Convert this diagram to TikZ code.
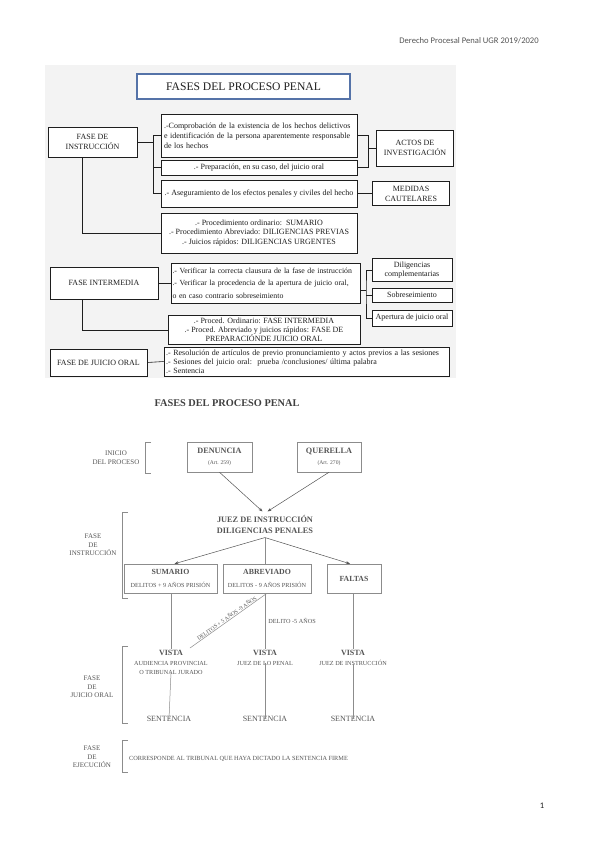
\documentclass[tikz,border=0pt]{standalone}
\usepackage{fontspec}
\setmainfont{Liberation Serif}
\newfontfamily\hdrfont{Carlito}
\usetikzlibrary{arrows.meta,calc}
\definecolor{bgc}{HTML}{F3F3F3}
\definecolor{ink}{HTML}{1E1E1E}
\definecolor{gtext}{HTML}{555555}
\definecolor{gline}{HTML}{8C8C8C}
\definecolor{tblue}{HTML}{5573A8}
\begin{document}
\begin{tikzpicture}[x=1pt,y=-1pt,
  ubox/.style={draw=ink, line width=0.6pt, inner sep=0pt, align=center, text=ink, fill=white, font=\fontsize{8}{9.8}\selectfont},
  lbox/.style={ubox, align=left, inner xsep=3pt},
  uline/.style={draw=ink, line width=0.6pt},
  gbox/.style={draw=gline, line width=0.5pt, inner sep=0pt, align=center, text=gtext},
  gl/.style={draw=gline, line width=0.5pt},
  garrow/.style={draw=gtext, line width=0.5pt, -{Stealth[length=4pt,width=3pt]}},
  glab/.style={text=gtext, align=center, font=\fontsize{7}{8.7}\selectfont, inner sep=0pt},
  gbig/.style={text=gtext, align=center, font=\fontsize{8}{9}\selectfont\bfseries, inner sep=0pt},
  gsub/.style={text=gtext, align=center, font=\fontsize{6.2}{9}\selectfont, inner sep=0pt},
]
\useasboundingbox[fill=white] (0,0) rectangle (599,848);

% header and page number
\node[text=gtext, font=\hdrfont\fontsize{8.6}{10}\selectfont, inner sep=0pt] (hdr) at (469,41) {Derecho Procesal Penal UGR 2019/2020};
\node[text=ink, font=\hdrfont\fontsize{8.5}{9}\selectfont, inner sep=0pt] (pnum) at (542,806) {1};

% ---------- upper diagram ----------
\fill[bgc] (45,65) rectangle (456,378);
\node[ubox, draw=tblue, line width=1.1pt, minimum width=213pt, minimum height=25pt, font=\fontsize{11.6}{13}\selectfont] (title) at (243.5,86.5) {FASES DEL PROCESO PENAL};

\node[ubox, minimum width=89pt, minimum height=30pt] (fi) at (92.5,142) {FASE DE\\INSTRUCCIÓN};
\node[lbox, text width=190pt, minimum height=43pt] (b1) at (259,135.5) {.-Comprobación de la existencia de los hechos delictivos\\e identificación de la persona aparentemente responsable\\de los hechos};
\node[ubox, minimum width=196pt, minimum height=15pt] (b2) at (259,167.5) {.- Preparación, en su caso, del juicio oral};
\node[ubox, minimum width=196pt, minimum height=27pt] (b3) at (259,193.5) {.- Aseguramiento de los efectos penales y civiles del hecho};
\node[ubox, minimum width=77pt, minimum height=36pt] (actos) at (415,148) {ACTOS DE\\INVESTIGACIÓN};
\node[ubox, minimum width=77pt, minimum height=24pt] (medidas) at (411,193.5) {MEDIDAS\\CAUTELARES};
\node[ubox, minimum width=196pt, minimum height=40pt, font=\fontsize{8}{9.2}\selectfont] (b4) at (259,233) {.- Procedimiento ordinario:\ \ SUMARIO\\.- Procedimiento Abreviado: DILIGENCIAS PREVIAS\\.- Juicios rápidos: DILIGENCIAS URGENTES};

\node[ubox, minimum width=108pt, minimum height=32pt] (fint) at (104,283) {FASE INTERMEDIA};
\node[lbox, inner xsep=1.5pt, text width=186pt, minimum height=40pt, font=\fontsize{7.8}{12.5}\selectfont] (b5) at (265.5,283) {.- Verificar la correcta clausura de la fase de instrucción\\.- Verificar la procedencia de la apertura de juicio oral,\\o en caso contrario sobreseimiento};
\node[ubox, minimum width=80pt, minimum height=23pt] (dil) at (412,270) {Diligencias\\complementarias};
\node[ubox, minimum width=80pt, minimum height=14pt] (sob) at (412,295) {Sobreseimiento};
\node[ubox, minimum width=80pt, minimum height=16pt] (ape) at (412,318) {Apertura de juicio oral};
\node[ubox, minimum width=192pt, minimum height=29pt, font=\fontsize{8}{9.2}\selectfont] (b6) at (264,330) {.- Proced. Ordinario: FASE INTERMEDIA\\.- Proced. Abreviado y juicios rápidos: FASE DE\\PREPARACIÓNDE JUICIO ORAL};

\node[ubox, minimum width=97pt, minimum height=27pt] (fjo) at (98.5,362.5) {FASE DE JUICIO ORAL};
\node[lbox, inner xsep=2pt, text width=281pt, minimum height=29pt, font=\fontsize{8}{9.2}\selectfont] (b7) at (306.5,361.5) {.- Resolución de artículos de previo pronunciamiento y actos previos a las sesiones\\.- Sesiones del juicio oral:\ \ prueba /conclusiones/ última palabra\\.- Sentencia};

% upper connectors
\coordinate (j1) at (153,142);
\draw[uline] (fi.east) -- (j1);
\draw[uline] (b1.west) -| (j1);
\draw[uline] (b3.west) -| (j1);
\draw[uline] (b2.west) -- (b2.west -| j1);
\coordinate (j2) at (368,148);
\draw[uline] (b1.east) -| (j2);
\draw[uline] (b2.east) -| (j2);
\draw[uline] (j2) -- (actos.west);
\draw[uline] (b3.east) -- (medidas.west);
\draw[uline] ([xshift=-10pt]fi.south) |- (b4.west);
\draw[uline] (fint.east) -- (b5.west);
\coordinate (j3) at (366,290);
\draw[uline] (b5.east |- j3) -- (j3);
\draw[uline] (dil.west) -| (j3) |- (ape.west);
\draw[uline] (sob.west) -- (sob.west -| j3);
\draw[uline] ([xshift=-22pt]fint.south) |- (b6.west);
\draw[uline] (fjo.east) -- (b7.west);

% ---------- lower diagram ----------
\node[text=ink!85, font=\fontsize{10.3}{11}\selectfont\bfseries, inner sep=0pt] (t2) at (227,403) {FASES DEL PROCESO PENAL};

\node[glab] (linicio) at (116,458) {INICIO\\DEL PROCESO};
\draw[gl] (151,442) -- (145,442) -- (145,473) -- (151,473);

\node[gbox, minimum width=65pt, minimum height=30pt] (den) at (219.5,457) {{\fontsize{8.2}{9}\selectfont\bfseries DENUNCIA}\\[-1pt]{\fontsize{5.6}{6}\selectfont (Art. 259)}};
\node[gbox, minimum width=64pt, minimum height=30pt] (que) at (329,457) {{\fontsize{8.2}{9}\selectfont\bfseries QUERELLA}\\[-1pt]{\fontsize{5.6}{6}\selectfont (Art. 270)}};

\node[gbig, font=\fontsize{8.3}{10.5}\selectfont\bfseries, inner ysep=4pt] (juez) at (265,524.5) {JUEZ DE INSTRUCCIÓN\\DILIGENCIAS PENALES};
\draw[garrow] (den.south) -- ([xshift=-2.5pt]juez.north);
\draw[garrow] (que.south) -- ([xshift=2.5pt]juez.north);

\node[glab] (linstr) at (93,545) {FASE\\DE\\INSTRUCCIÓN};
\draw[gl] (128,512) -- (122,512) -- (122,598) -- (128,598);

\node[gbox, minimum width=93pt, minimum height=29pt] (sum) at (170.5,578.5) {{\fontsize{7.8}{8}\selectfont\bfseries SUMARIO}\\[1pt]{\fontsize{6.2}{6.5}\selectfont DELITOS + 9 AÑOS PRISIÓN}};
\node[gbox, minimum width=88pt, minimum height=29pt] (abr) at (267,578.5) {{\fontsize{7.8}{8}\selectfont\bfseries ABREVIADO}\\[1pt]{\fontsize{6.2}{6.5}\selectfont DELITOS - 9 AÑOS PRISIÓN}};
\node[gbox, minimum width=54pt, minimum height=29pt] (fal) at (354,578.5) {{\fontsize{7.8}{8}\selectfont\bfseries FALTAS}};

\draw[garrow] (juez.south) -- ([xshift=4pt]sum.north);
\draw[gl] (juez.south) -- (juez.south |- abr.north);
\draw[garrow] (juez.south) -- ([xshift=-4pt]fal.north);

\node[gbig] (v1) at (171,653) {VISTA};
\node[gbig] (v2) at (265,653) {VISTA};
\node[gbig] (v3) at (353,653) {VISTA};
\node[gsub] (s1) at (171,667.5) {AUDIENCIA PROVINCIAL\\O TRIBUNAL JURADO};
\node[gsub] (s2) at (265,663) {JUEZ DE LO PENAL};
\node[gsub] (s3) at (353,663) {JUEZ DE INSTRUCCIÓN};

\draw[gl] (sum.south -| v1.north) -- ([yshift=1pt]v1.north);
\draw[gl] (abr.south -| v2.north) -- ([yshift=1pt]v2.north);
\draw[gl] (fal.south -| v3.north) -- ([yshift=1pt]v3.north);
\coordinate (dend) at (190,648);
\draw[gl] (abr.south) -- (dend) node[midway, sloped, above=0pt, text=gtext, inner sep=0.6pt, font=\fontsize{5.6}{6}\selectfont] {DELITOS + 5 AÑOS -9 AÑOS};
\node[gsub] (d5) at (292,621) {DELITO -5 AÑOS};

\node[gbig, font=\fontsize{8}{9}\selectfont] (e1) at (169,719) {SENTENCIA};
\node[gbig, font=\fontsize{8}{9}\selectfont] (e2) at (265,719) {SENTENCIA};
\node[gbig, font=\fontsize{8}{9}\selectfont] (e3) at (353,719) {SENTENCIA};
\draw[gl] ([yshift=2pt]s1.south) -- ([yshift=-3pt]e1.north);
\draw[gl] ([yshift=2pt]s2.south) -- ([yshift=-3pt]e2.north);
\draw[gl] ([yshift=2pt]s3.south) -- ([yshift=-3pt]e3.north);

\node[glab] (ljo) at (92,687) {FASE\\DE\\JUICIO ORAL};
\draw[gl] (128,646) -- (122,646) -- (122,723) -- (128,723);

\node[glab] (lej) at (92,757) {FASE\\DE\\EJECUCIÓN};
\draw[gl] (128,740) -- (122,740) -- (122,772) -- (128,772);
\node[glab, font=\fontsize{6.3}{7}\selectfont, anchor=west] (corr) at (129,759) {CORRESPONDE AL TRIBUNAL QUE HAYA DICTADO LA SENTENCIA FIRME};
\end{tikzpicture}
\end{document}
